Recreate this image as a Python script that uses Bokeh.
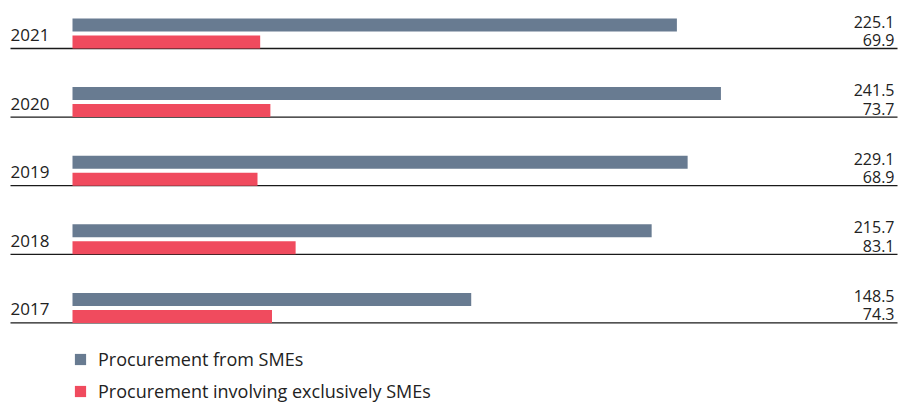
from bokeh.plotting import figure
from bokeh.models import Range1d, Legend, LegendItem, ColumnDataSource
from bokeh.embed import file_html
from bokeh.resources import INLINE
from bokeh.core.properties import value

years = ["2021", "2020", "2019", "2018", "2017"]
smes = [225.1, 241.5, 229.1, 215.7, 148.5]
exclusive = [69.9, 73.7, 68.9, 83.1, 74.3]
series_names = ["Procurement from SMEs", "Procurement involving exclusively SMEs"]

GRAY = "#687b91"
RED = "#f04b5e"
TXT = "#222222"
FONT = "Open Sans"

W, H = 899, 404
PX = 2.685          # pixels per unit
X0 = 72             # pixel of x = 0
xs = -X0 / PX
p = figure(width=W, height=H, output_backend="svg", toolbar_location=None,
           x_range=Range1d(xs, xs + W / PX), y_range=Range1d(H, 0),
           min_border=0, outline_line_color=None)
p.axis.visible = False
p.grid.visible = False
p.background_fill_color = None
p.border_fill_color = None

pitch = 68.6
base = [48 + i * pitch for i in range(len(years))]

src = ColumnDataSource(dict(
    year=years, smes=smes, excl=exclusive,
    base=base,
    yg=[b - 23.5 for b in base],
    yr=[b - 6.5 for b in base],
    yyear=[b - 13.5 for b in base],
    ytg=[b - 27 for b in base],
    ytr=[b - 8.5 for b in base],
    lg=[f"{v:.1f}" for v in smes],
    lr=[f"{v:.1f}" for v in exclusive],
))

xl = (10 - X0) / PX
xr = (897 - X0) / PX
xt = (894 - X0) / PX
xy = (10 - X0) / PX

p.segment(x0=xl, x1=xr, y0="base", y1="base", source=src, line_color="#1a1a1a", line_width=1.3)
rg = p.hbar(y="yg", left=0, right="smes", height=13, source=src, fill_color=GRAY, line_color=None)
rr = p.hbar(y="yr", left=0, right="excl", height=13, source=src, fill_color=RED, line_color=None)

p.text(x=xy, y="yyear", text="year", source=src, text_font=value(FONT), text_font_size="17px",
       text_color=TXT, text_align="left", text_baseline="middle")
p.text(x=xt, y="ytg", text="lg", source=src, text_font=value(FONT), text_font_size="16px",
       text_color=TXT, text_align="right", text_baseline="middle")
p.text(x=xt, y="ytr", text="lr", source=src, text_font=value(FONT), text_font_size="16px",
       text_color=TXT, text_align="right", text_baseline="middle")

legend = Legend(items=[LegendItem(label=series_names[0], renderers=[rg]),
                       LegendItem(label=series_names[1], renderers=[rr])],
                location=(73, 1), orientation="vertical",
                glyph_width=14, glyph_height=14, label_height=16, label_standoff=11,
                spacing=8, padding=0, margin=0, border_line_color=None,
                background_fill_alpha=0, label_text_font=FONT, label_text_font_size="18px",
                label_text_color=TXT)
p.add_layout(legend, "center")

open("out.html", "w").write(file_html(p, INLINE))
